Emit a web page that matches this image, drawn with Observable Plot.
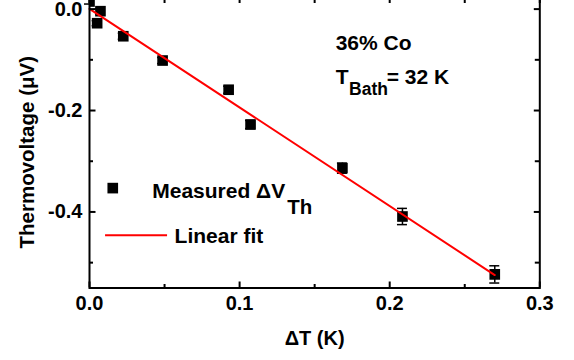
<!DOCTYPE html>
<html><head><meta charset="utf-8">
<script src="https://cdn.jsdelivr.net/npm/d3@7"></script>
<script src="https://cdn.jsdelivr.net/npm/@observablehq/plot@0.6"></script>
<style>
body{margin:0;background:#fff}
svg{font-family:"Liberation Sans",Arial,sans-serif;font-weight:bold}
</style>
</head><body><div id="chart"></div>
<script>
// Measured thermovoltage vs temperature difference
const deltaT   = [0, 0.0051, 0.0073, 0.0225, 0.0487, 0.0927, 0.1073, 0.1685, 0.2085, 0.270];
const voltage  = [0.015, -0.0278, -0.0041, -0.0535, -0.1014, -0.159, -0.2276, -0.3136, -0.409, -0.5232];
const errorBar = [0.005, 0.005, 0.005, 0.006, 0.006, 0.007, 0.008, 0.010, 0.016, 0.017];
// Linear fit line endpoints
const fitDeltaT  = [0, 0.270];
const fitVoltage = [0.0006, -0.5245];
// Ticks
const xMajorTicks = [0, 0.1, 0.2, 0.3];
const xTickLabels = ["0.0", "0.1", "0.2", "0.3"];
const xMinorTicks = [0.05, 0.15, 0.25];
const yMajorTicks = [0, -0.2, -0.4];
const yTickLabels = ["0.0", "-0.2", "-0.4"];
const yMinorTicks = [-0.1, -0.3, -0.5];

const points = deltaT.map((x, i) => ({x, y: voltage[i], e: errorBar[i]}));
const fit = fitDeltaT.map((x, i) => ({x, y: fitVoltage[i]}));

const W = 574, H = 360;
const mL = 89, mR = 34.7, mT = -3, mB = 72.5;
const plotW = W - mL - mR, plotH = H - mT - mB;
const F = "Liberation Sans, Arial, sans-serif";
const txt = {fontFamily: F, fontWeight: "bold", fill: "black"};

const chart = Plot.plot({
  width: W, height: H,
  marginLeft: mL, marginRight: mR, marginTop: mT, marginBottom: mB,
  style: {background: "white", fontFamily: F},
  x: {domain: [0, 0.3], axis: null},
  y: {domain: [-0.55, 0.0229], axis: null},
  marks: [
    // error bars
    Plot.ruleX(points, {x: "x", y1: d => d.y - d.e, y2: d => d.y + d.e, stroke: "black", strokeWidth: 1.5}),
    Plot.ruleY(points, {y: d => d.y - d.e, x1: "x", x2: "x", insetLeft: -5, insetRight: -5, stroke: "black", strokeWidth: 1.5}),
    Plot.ruleY(points, {y: d => d.y + d.e, x1: "x", x2: "x", insetLeft: -5, insetRight: -5, stroke: "black", strokeWidth: 1.5}),
    // data points
    Plot.dot(points, {x: "x", y: "y", symbol: "square", r: 6, fill: "black", stroke: "none", clip: true}),
    // linear fit
    Plot.line(fit, {x: "x", y: "y", stroke: "#ff0000", strokeWidth: 2}),
    // frame
    Plot.frame({stroke: "black", strokeWidth: 2}),
    // inward ticks: bottom / top
    Plot.tickX(xMajorTicks, {x: d => d, insetTop: plotH - 6, stroke: "black", strokeWidth: 2}),
    Plot.tickX(xMinorTicks, {x: d => d, insetTop: plotH - 3.5, stroke: "black", strokeWidth: 2}),
    Plot.tickX(xMajorTicks, {x: d => d, insetBottom: plotH - 6, stroke: "black", strokeWidth: 2}),
    Plot.tickX(xMinorTicks, {x: d => d, insetBottom: plotH - 6, stroke: "black", strokeWidth: 2}),
    // inward ticks: left / right
    Plot.tickY(yMajorTicks, {y: d => d, insetRight: plotW - 6.5, stroke: "black", strokeWidth: 2}),
    Plot.tickY(yMinorTicks, {y: d => d, insetRight: plotW - 4, stroke: "black", strokeWidth: 2}),
    Plot.tickY(yMajorTicks, {y: d => d, insetLeft: plotW - 5.5, stroke: "black", strokeWidth: 2}),
    Plot.tickY(yMinorTicks, {y: d => d, insetLeft: plotW - 4.5, stroke: "black", strokeWidth: 2}),
    // tick labels
    Plot.text(xMajorTicks, {x: d => d, text: (d, i) => xTickLabels[i], frameAnchor: "bottom", dy: 16, lineAnchor: "middle", fontSize: 20, ...txt}),
    Plot.text(yMajorTicks, {y: d => d, text: (d, i) => yTickLabels[i], frameAnchor: "left", dx: -7, textAnchor: "end", lineAnchor: "middle", fontSize: 20, ...txt}),
    // axis titles
    Plot.text(["\u0394T (K)"], {frameAnchor: "bottom", dy: 50.5, textAnchor: "middle", lineAnchor: "middle", fontSize: 20, ...txt}),
    Plot.text(["Thermovoltage (\u03bcV)"], {frameAnchor: "left", dx: -62, dy: 9.5, rotate: -90, textAnchor: "middle", lineAnchor: "middle", fontSize: 20.5, ...txt}),
    // annotations
    Plot.text(["36% Co"], {x: 0.164, y: -0.0672, textAnchor: "start", fontSize: 21, ...txt}),
    Plot.text(["T"], {x: 0.164, y: -0.1342, textAnchor: "start", fontSize: 21, ...txt}),
    Plot.text(["Bath"], {x: 0.1729, y: -0.1588, textAnchor: "start", fontSize: 17.5, ...txt}),
    Plot.text(["= 32 K"], {x: 0.198, y: -0.1342, textAnchor: "start", fontSize: 21, ...txt}),
    // legend
    Plot.dot([0], {x: 0.0155, y: -0.353, symbol: "square", r: 6, fill: "black", stroke: "none"}),
    Plot.text(["Measured \u0394V"], {x: 0.0418, y: -0.3591, textAnchor: "start", fontSize: 21, ...txt}),
    Plot.text(["Th"], {x: 0.1317, y: -0.392, textAnchor: "start", fontSize: 20.5, ...txt}),
    Plot.ruleY([-0.4462], {y: d => d, x1: 0.0107, x2: 0.052, stroke: "#ff0000", strokeWidth: 2}),
    Plot.text(["Linear fit"], {x: 0.0567, y: -0.4486, textAnchor: "start", fontSize: 21, ...txt})
  ]
});
document.getElementById("chart").appendChild(chart);
</script>
</body></html>
